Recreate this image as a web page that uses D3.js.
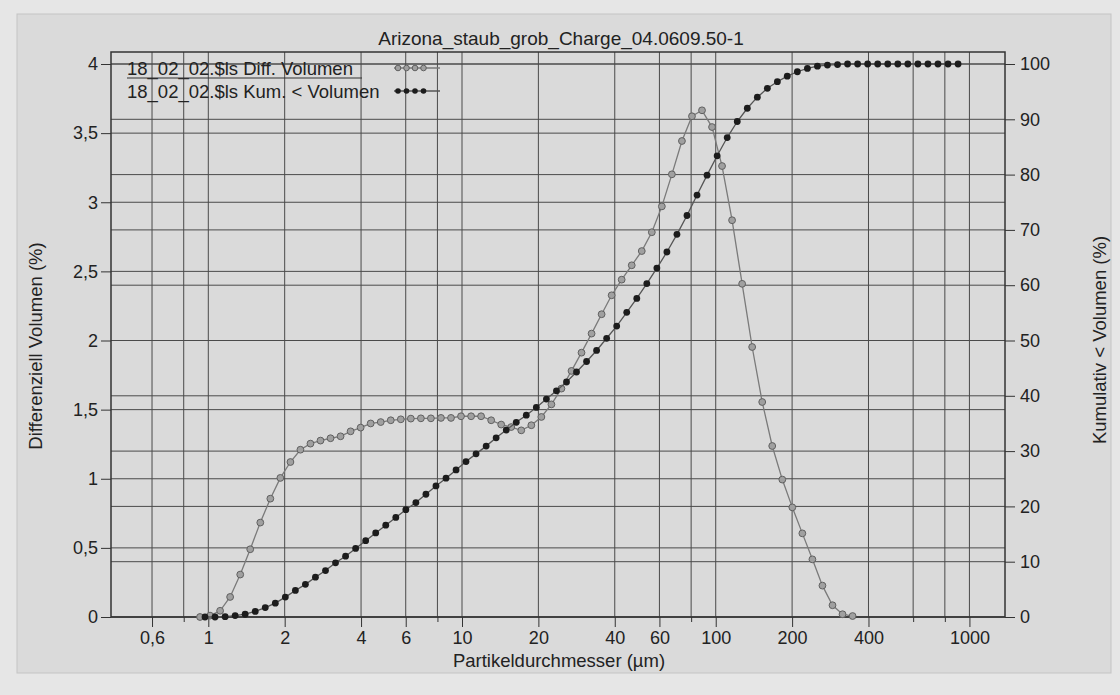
<!DOCTYPE html>
<html>
<head>
<meta charset="utf-8">
<script src="https://cdn.jsdelivr.net/npm/d3@7"></script>
<style>
  html, body { margin: 0; padding: 0; background: #e6e6e6; }
  svg { display: block; }
  text { font-family: "Liberation Sans", Arial, sans-serif; fill: #222; }
  .axis path { display: none; }
  .axis line { stroke: #333; }
  .axis text { font-size: 18px; }
</style>
</head>
<body>
<svg id="chart" width="1120" height="695"></svg>
<script>
// particle sizes (µm) of the differential points
var diffSizes = [0.9275, 1.016, 1.113, 1.219, 1.336, 1.463, 1.603, 1.756, 1.923, 2.107,
  2.307, 2.527, 2.768, 3.032, 3.321, 3.638, 3.985, 4.365, 4.782, 5.238,
  5.738, 6.285, 6.885, 7.541, 8.261, 9.049, 9.911, 10.86, 11.89, 13.03,
  14.27, 15.63, 17.12, 18.76, 20.55, 22.51, 24.65, 27.01, 29.58, 32.41,
  35.50, 38.88, 42.59, 46.66, 51.11, 55.99, 61.33, 67.18, 73.59, 80.61,
  88.30, 96.72, 105.9, 116.0, 127.1, 139.2, 152.5, 167.0, 183.0, 200.4,
  219.5, 240.5, 263.4, 288.6, 316.1, 346.3];
// Diff. Volumen (%)
var diffValues = [0.00, 0.01, 0.045, 0.145, 0.307, 0.49, 0.683, 0.856, 1.006, 1.121,
  1.21, 1.254, 1.276, 1.293, 1.307, 1.343, 1.37, 1.40, 1.41, 1.423,
  1.43, 1.435, 1.437, 1.437, 1.44, 1.44, 1.452, 1.452, 1.452, 1.423,
  1.392, 1.374, 1.35, 1.387, 1.447, 1.538, 1.652, 1.78, 1.912, 2.05,
  2.19, 2.327, 2.44, 2.544, 2.647, 2.783, 2.97, 3.202, 3.443, 3.622,
  3.665, 3.544, 3.262, 2.87, 2.41, 1.953, 1.555, 1.237, 0.994, 0.793,
  0.605, 0.417, 0.227, 0.085, 0.02, 0.007];

// particle sizes (µm) of the cumulative points
var cumSizes = [0.9705, 1.063, 1.165, 1.276, 1.397, 1.531, 1.677, 1.837, 2.012, 2.204,
  2.414, 2.644, 2.897, 3.173, 3.476, 3.808, 4.171, 4.569, 5.005, 5.483,
  6.006, 6.580, 7.207, 7.895, 8.649, 9.474, 10.37, 11.36, 12.45, 13.63,
  14.94, 16.36, 17.92, 19.63, 21.51, 23.56, 25.81, 28.27, 30.97, 33.92,
  37.16, 40.71, 44.59, 48.85, 53.51, 58.62, 64.21, 70.34, 77.05, 84.41,
  92.46, 101.3, 111.0, 121.6, 133.2, 145.9, 159.8, 175.0, 191.4, 209.8,
  229.8, 251.7, 275.7, 302.1, 330.9, 362.5, 397.1, 435.0, 476.5, 522.0,
  571.8, 626.4, 686.1, 751.6, 823.3, 901.9];
// Kum. < Volumen (%)
var cumValues = [0, 0, 0.05, 0.25, 0.5, 1.0, 1.7, 2.5, 3.6, 4.8,
  5.9, 7.2, 8.4, 9.8, 11.0, 12.4, 13.8, 15.2, 16.6, 18.0,
  19.4, 20.7, 22.2, 23.7, 25.1, 26.6, 28.1, 29.5, 30.9, 32.4,
  33.8, 35.2, 36.5, 37.9, 39.4, 40.9, 42.5, 44.3, 46.2, 48.2,
  50.4, 52.6, 55.1, 57.6, 60.3, 63.1, 66.0, 69.2, 72.6, 76.3,
  79.9, 83.4, 86.7, 89.6, 92.0, 94.0, 95.6, 96.8, 97.8, 98.6,
  99.2, 99.6, 99.8, 99.9, 100, 100, 100, 100, 100, 100,
  100, 100, 100, 100, 100, 100];

var xGrid = [0.6, 0.8, 1, 2, 4, 6, 8, 10, 20, 40, 60, 80, 100, 200, 400, 600, 800, 1000];
var xLabelled = [0.6, 1, 2, 4, 6, 10, 20, 40, 60, 100, 200, 400, 1000];
var leftTicks = [0, 0.5, 1, 1.5, 2, 2.5, 3, 3.5, 4];
var rightTicks = [0, 10, 20, 30, 40, 50, 60, 70, 80, 90, 100];

var title = "Arizona_staub_grob_Charge_04.0609.50-1";
var legendNames = ["18_02_02.$ls Diff. Volumen", "18_02_02.$ls Kum. < Volumen"];
var xTitle = "Partikeldurchmesser (µm)";
var yLeftTitle = "Differenziell Volumen (%)";
var yRightTitle = "Kumulativ < Volumen (%)";

var margin = { top: 52, right: 115, bottom: 78, left: 111 };
var svg = d3.select("#chart");
var width = +svg.attr("width") - margin.left - margin.right;
var height = +svg.attr("height") - margin.top - margin.bottom;

var comma = function (v) { return String(v).replace(".", ","); };

// panel behind the chart
svg.append("rect")
  .attr("x", 17).attr("y", 14)
  .attr("width", 1094).attr("height", 659)
  .attr("fill", "#dadada")
  .attr("stroke", "#c4c4c4");

var g = svg.append("g").attr("transform", "translate(" + margin.left + "," + margin.top + ")");

var x = d3.scaleLog().domain([0.4135, 1381]).range([0, width]);
var yL = d3.scaleLinear().domain([0, 4]).range([height, 12]);
var yR = d3.scaleLinear().domain([0, 100]).range([height, 12]);

// grid
g.append("g").selectAll("line").data(xGrid).enter().append("line")
  .attr("x1", function (d) { return x(d); })
  .attr("x2", function (d) { return x(d); })
  .attr("y1", 0).attr("y2", height)
  .attr("stroke", "#4a4a4a").attr("stroke-width", 1);
g.append("g").selectAll("line").data(leftTicks).enter().append("line")
  .attr("x1", 0).attr("x2", width)
  .attr("y1", function (d) { return yL(d); })
  .attr("y2", function (d) { return yL(d); })
  .attr("stroke", "#4a4a4a").attr("stroke-width", 1);
g.append("g").selectAll("line").data(rightTicks).enter().append("line")
  .attr("x1", 0).attr("x2", width)
  .attr("y1", function (d) { return yR(d); })
  .attr("y2", function (d) { return yR(d); })
  .attr("stroke", "#4a4a4a").attr("stroke-width", 1);

// frame
g.append("rect")
  .attr("width", width).attr("height", height)
  .attr("fill", "none").attr("stroke", "#333").attr("stroke-width", 1.5);

// axes
g.append("g").attr("class", "axis")
  .call(d3.axisLeft(yL).tickValues(leftTicks).tickSize(10).tickPadding(3).tickFormat(comma));
g.append("g").attr("class", "axis")
  .attr("transform", "translate(" + width + ",0)")
  .call(d3.axisRight(yR).tickValues(rightTicks).tickSize(10).tickPadding(5));
g.append("g").attr("class", "axis")
  .attr("transform", "translate(0," + height + ")")
  .call(d3.axisBottom(x).tickValues(xGrid).tickSize(10).tickPadding(4)
    .tickFormat(function (d) { return xLabelled.indexOf(d) >= 0 ? comma(d) : ""; }))
  .selectAll(".tick line")
  .attr("y2", function (d) { return xLabelled.indexOf(d) >= 0 ? 10 : 5; });

// titles
svg.append("text")
  .attr("x", 561).attr("y", 45)
  .attr("text-anchor", "middle").style("font-size", "19px")
  .text(title);
svg.append("text")
  .attr("x", 559).attr("y", 667)
  .attr("text-anchor", "middle").style("font-size", "18.5px")
  .text(xTitle);
svg.append("text")
  .attr("transform", "translate(42,346) rotate(-90)")
  .attr("text-anchor", "middle").style("font-size", "18.5px")
  .text(yLeftTitle);
svg.append("text")
  .attr("transform", "translate(1106,340) rotate(-90)")
  .attr("text-anchor", "middle").style("font-size", "18.5px")
  .text(yRightTitle);

// series
var diff = diffSizes.map(function (s, i) { return { s: s, v: diffValues[i] }; });
var cum = cumSizes.map(function (s, i) { return { s: s, v: cumValues[i] }; });

var diffLine = d3.line()
  .x(function (d) { return x(d.s); })
  .y(function (d) { return yL(d.v); });
var cumLine = d3.line()
  .x(function (d) { return x(d.s); })
  .y(function (d) { return yR(d.v); });

g.append("path").datum(diff)
  .attr("d", diffLine)
  .attr("fill", "none").attr("stroke", "#7a7a7a").attr("stroke-width", 1.3);
g.append("g").selectAll("circle").data(diff).enter().append("circle")
  .attr("cx", function (d) { return x(d.s); })
  .attr("cy", function (d) { return yL(d.v); })
  .attr("r", 3.4)
  .attr("fill", "#a0a0a0").attr("stroke", "#606060").attr("stroke-width", 1);

g.append("path").datum(cum)
  .attr("d", cumLine)
  .attr("fill", "none").attr("stroke", "#555").attr("stroke-width", 1.3);
g.append("g").selectAll("circle").data(cum).enter().append("circle")
  .attr("cx", function (d) { return x(d.s); })
  .attr("cy", function (d) { return yR(d.v); })
  .attr("r", 3.4)
  .attr("fill", "#1c1c1c");

// legend
var legend = svg.append("g");
legendNames.forEach(function (name, i) {
  var ly = 68 + i * 23;
  legend.append("text")
    .attr("x", 127).attr("y", ly + 7)
    .style("font-size", "18.5px")
    .text(name);
  legend.append("line")
    .attr("x1", 394).attr("x2", 440)
    .attr("y1", ly).attr("y2", ly)
    .attr("stroke", i === 0 ? "#7a7a7a" : "#555").attr("stroke-width", 1.3);
  [398, 406.5, 415, 423.5].forEach(function (cx) {
    legend.append("circle")
      .attr("cx", cx).attr("cy", ly).attr("r", 2.8)
      .attr("fill", i === 0 ? "#a0a0a0" : "#1c1c1c")
      .attr("stroke", i === 0 ? "#606060" : "none");
  });
});
legend.append("line")
  .attr("x1", 127).attr("x2", 362)
  .attr("y1", 78).attr("y2", 78)
  .attr("stroke", "#333").attr("stroke-width", 1);
</script>
</body>
</html>
